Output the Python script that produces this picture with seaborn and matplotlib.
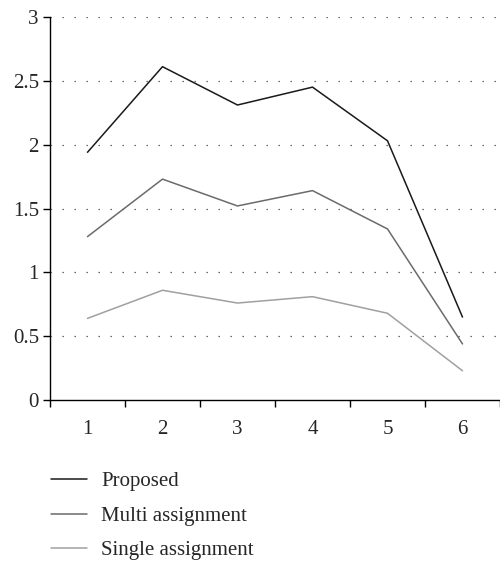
import matplotlib
matplotlib.use("Agg")
import matplotlib.pyplot as plt
import seaborn as sns
import pandas as pd
from matplotlib.lines import Line2D

categories = ["1", "2", "3", "4", "5", "6"]
proposed = [1.94, 2.61, 2.31, 2.45, 2.03, 0.65]
multi = [1.28, 1.73, 1.52, 1.64, 1.34, 0.44]
single = [0.64, 0.86, 0.76, 0.81, 0.68, 0.23]
series_names = ["Proposed", "Multi assignment", "Single assignment"]
colors = ["#1a1a1a", "#6b6b6b", "#a0a0a0"]

df = pd.DataFrame({
    "x": categories * 3,
    "y": proposed + multi + single,
    "series": [series_names[0]] * 6 + [series_names[1]] * 6 + [series_names[2]] * 6,
})

sns.set_style("white")
plt.rcParams["font.family"] = ["Liberation Serif", "DejaVu Serif"]

fig = plt.figure(figsize=(5, 5.62), dpi=100)
ax = fig.add_axes([0.1, 0.288, 0.9, 0.682])

sns.lineplot(data=df, x="x", y="y", hue="series", palette=colors,
             sort=False, linewidth=1.1, ax=ax, legend=False)

ax.set_xlim(-0.5, 5.5)
ax.set_ylim(0, 3)
ax.set_yticks([0, 0.5, 1, 1.5, 2, 2.5, 3])
ax.set_yticklabels(["0", "0.5", "1", "1.5", "2", "2.5", "3"])
ax.set_xticks(range(6))
ax.set_xticklabels(categories)
ax.set_xticks([i - 0.5 for i in range(7)], minor=True)
ax.tick_params(axis="x", which="major", length=0, labelsize=15, pad=14)
ax.tick_params(axis="x", which="minor", length=5, width=1, direction="out", color="black", bottom=True)
ax.tick_params(axis="y", length=5, width=1, direction="out", color="black", labelsize=15, left=True, pad=3)
ax.set_xlabel("")
ax.set_ylabel("")

for yv in [0.5, 1, 1.5, 2, 2.5, 3]:
    ax.axhline(yv, color="#444444", linestyle=(0, (1, 8.6)), linewidth=0.9, zorder=0)

for s in ["top", "right"]:
    ax.spines[s].set_visible(False)
for s in ["left", "bottom"]:
    ax.spines[s].set_color("black")
    ax.spines[s].set_linewidth(1)

handles = [Line2D([0], [0], color=c, lw=1.1) for c in colors]
fig.legend(handles, series_names, loc="upper left", bbox_to_anchor=(0.065, 0.194),
           frameon=False, fontsize=15, handlelength=1.7, handletextpad=0.7, labelspacing=0.72)

fig.savefig("out.png", dpi=100)
